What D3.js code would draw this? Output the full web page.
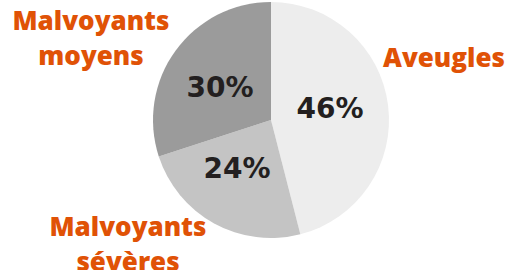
<!doctype html>
<html>
<head>
<meta charset="UTF-8">
<script src="https://cdnjs.cloudflare.com/ajax/libs/d3/7.8.5/d3.min.js"></script>
<style>
  body { margin: 0; background: #fff; }
  .cat { fill: #e05206; font-family: "Open Sans", sans-serif; font-weight: 800; font-size: 26px; }
  .pct { fill: #231f20; font-family: "DejaVu Sans", sans-serif; font-weight: bold; font-size: 28px; }
</style>
</head>
<body>
<svg width="510" height="270"></svg>
<script>
// slices, clockwise from 12 o'clock
var categories = ["Aveugles", "Malvoyants sévères", "Malvoyants moyens"];
var values = [46, 24, 30];
var labelLines = [["Aveugles"], ["Malvoyants", "sévères"], ["Malvoyants", "moyens"]];
var colors = ["#ededed", "#c4c4c4", "#9b9b9b"];

var svg = d3.select("svg");
var cx = 271, cy = 120, r = 118;

var pie = d3.pie().sort(null).value(function(d) { return d; });
var arc = d3.arc().innerRadius(0).outerRadius(r);
var arcs = pie(values);

var g = svg.append("g").attr("transform", "translate(" + cx + "," + cy + ")");

g.selectAll("path")
  .data(arcs)
  .enter().append("path")
  .attr("d", arc)
  .attr("fill", function(d, i) { return colors[i]; });

// percentage labels inside slices
var pctPos = [[59, -2], [-34, 58], [-51, -23]];
g.selectAll(".pct")
  .data(arcs)
  .enter().append("text")
  .attr("class", "pct")
  .attr("text-anchor", "middle")
  .attr("x", function(d, i) { return pctPos[i][0]; })
  .attr("y", function(d, i) { return pctPos[i][1]; })
  .text(function(d) { return d.data + "%"; });

// category labels outside
var catPos = [[444, 67], [128, 236], [91, 30]];
var lineH = 35;
labelLines.forEach(function(lines, i) {
  var t = svg.append("text")
    .attr("class", "cat")
    .attr("text-anchor", "middle")
    .attr("x", catPos[i][0])
    .attr("y", catPos[i][1]);
  lines.forEach(function(l, j) {
    t.append("tspan")
      .attr("x", catPos[i][0])
      .attr("dy", j == 0 ? 0 : lineH)
      .text(l);
  });
});
</script>
</body>
</html>
